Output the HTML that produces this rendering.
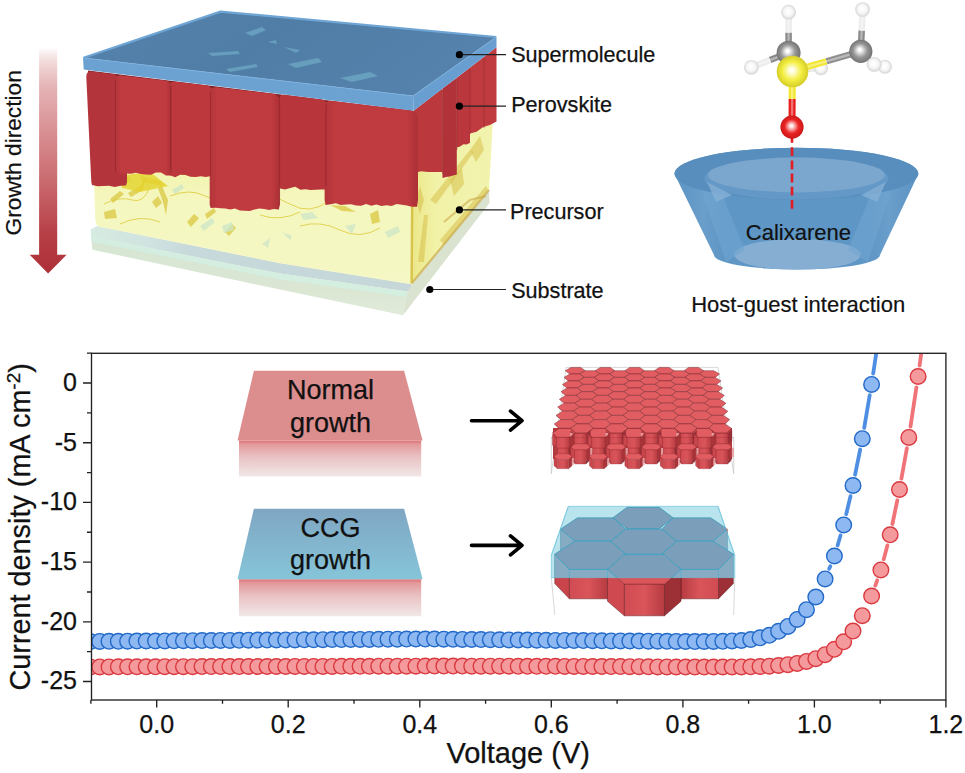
<!DOCTYPE html>
<html><head><meta charset="utf-8"><title>figure</title>
<style>
html,body{margin:0;padding:0;background:#fff;}
body{width:965px;height:773px;overflow:hidden;font-family:"Liberation Sans",sans-serif;}
svg{display:block;}
text{font-family:"Liberation Sans",sans-serif;}
</style></head><body>
<svg width="965" height="773" viewBox="0 0 965 773">
<rect width="965" height="773" fill="#fff"/>
<g id="chart">
<clipPath id="plotclip"><rect x="91.5" y="353.3" width="854.4" height="346.7"/></clipPath>
<g clip-path="url(#plotclip)">
<path d="M829.2 568.7L830.3 566.2M837.6 545.5L840.5 535.4M846.2 514.2L850.5 496.2M855.1 474.7L860.2 449.5M864.2 427.9L869.7 395.2M873.2 373.5L879.3 332.9" stroke="#4f8fe3" stroke-width="3.8" stroke-linecap="round" fill="none"/>
<g fill="#8db8f1" stroke="#2269c9" stroke-width="1.4"><circle cx="90.4" cy="641.5" r="7.8"/><circle cx="99.7" cy="641.4" r="7.8"/><circle cx="109.0" cy="641.3" r="7.8"/><circle cx="118.3" cy="641.3" r="7.8"/><circle cx="127.6" cy="641.2" r="7.8"/><circle cx="136.9" cy="641.1" r="7.8"/><circle cx="146.2" cy="641.0" r="7.8"/><circle cx="155.5" cy="641.0" r="7.8"/><circle cx="164.8" cy="640.9" r="7.8"/><circle cx="174.1" cy="640.8" r="7.8"/><circle cx="183.4" cy="640.7" r="7.8"/><circle cx="192.7" cy="640.7" r="7.8"/><circle cx="202.0" cy="640.6" r="7.8"/><circle cx="211.3" cy="640.5" r="7.8"/><circle cx="220.6" cy="640.4" r="7.8"/><circle cx="229.9" cy="640.4" r="7.8"/><circle cx="239.2" cy="640.3" r="7.8"/><circle cx="248.5" cy="640.2" r="7.8"/><circle cx="257.8" cy="640.1" r="7.8"/><circle cx="267.1" cy="640.1" r="7.8"/><circle cx="276.4" cy="640.0" r="7.8"/><circle cx="285.7" cy="639.9" r="7.8"/><circle cx="295.0" cy="639.9" r="7.8"/><circle cx="304.3" cy="639.8" r="7.8"/><circle cx="313.6" cy="639.8" r="7.8"/><circle cx="322.9" cy="639.7" r="7.8"/><circle cx="332.2" cy="639.6" r="7.8"/><circle cx="341.5" cy="639.6" r="7.8"/><circle cx="350.8" cy="639.5" r="7.8"/><circle cx="360.1" cy="639.4" r="7.8"/><circle cx="369.4" cy="639.4" r="7.8"/><circle cx="378.7" cy="639.3" r="7.8"/><circle cx="388.0" cy="639.2" r="7.8"/><circle cx="397.3" cy="639.2" r="7.8"/><circle cx="406.6" cy="639.1" r="7.8"/><circle cx="415.9" cy="639.0" r="7.8"/><circle cx="425.2" cy="639.1" r="7.8"/><circle cx="434.5" cy="639.1" r="7.8"/><circle cx="443.8" cy="639.2" r="7.8"/><circle cx="453.1" cy="639.3" r="7.8"/><circle cx="462.4" cy="639.4" r="7.8"/><circle cx="471.7" cy="639.5" r="7.8"/><circle cx="481.0" cy="639.6" r="7.8"/><circle cx="490.3" cy="639.7" r="7.8"/><circle cx="499.6" cy="639.8" r="7.8"/><circle cx="508.9" cy="639.9" r="7.8"/><circle cx="518.2" cy="640.0" r="7.8"/><circle cx="527.5" cy="640.1" r="7.8"/><circle cx="536.8" cy="640.2" r="7.8"/><circle cx="546.1" cy="640.3" r="7.8"/><circle cx="555.4" cy="640.4" r="7.8"/><circle cx="564.7" cy="640.4" r="7.8"/><circle cx="574.0" cy="640.5" r="7.8"/><circle cx="583.3" cy="640.6" r="7.8"/><circle cx="592.6" cy="640.7" r="7.8"/><circle cx="601.9" cy="640.8" r="7.8"/><circle cx="611.2" cy="640.9" r="7.8"/><circle cx="620.5" cy="640.9" r="7.8"/><circle cx="629.8" cy="641.0" r="7.8"/><circle cx="639.1" cy="641.1" r="7.8"/><circle cx="648.4" cy="641.2" r="7.8"/><circle cx="657.7" cy="641.2" r="7.8"/><circle cx="667.0" cy="641.3" r="7.8"/><circle cx="676.3" cy="641.4" r="7.8"/><circle cx="685.6" cy="641.5" r="7.8"/><circle cx="694.9" cy="641.6" r="7.8"/><circle cx="704.2" cy="641.5" r="7.8"/><circle cx="713.5" cy="641.4" r="7.8"/><circle cx="722.8" cy="641.3" r="7.8"/><circle cx="732.1" cy="640.9" r="7.8"/><circle cx="741.4" cy="640.5" r="7.8"/><circle cx="750.7" cy="639.6" r="7.8"/><circle cx="760.0" cy="637.8" r="7.8"/><circle cx="769.3" cy="635.3" r="7.8"/><circle cx="778.6" cy="631.3" r="7.8"/><circle cx="787.9" cy="626.4" r="7.8"/><circle cx="797.2" cy="619.4" r="7.8"/><circle cx="806.5" cy="609.7" r="7.8"/><circle cx="815.8" cy="597.0" r="7.8"/><circle cx="825.1" cy="578.9" r="7.8"/><circle cx="834.4" cy="556.0" r="7.8"/><circle cx="843.7" cy="524.9" r="7.8"/><circle cx="853.0" cy="485.5" r="7.8"/><circle cx="862.3" cy="438.7" r="7.8"/><circle cx="871.6" cy="384.4" r="7.8"/></g>
</g>
<g clip-path="url(#plotclip)">
<path d="M875.3 585.6L877.2 580.3M883.7 559.3L887.4 545.4M892.4 524.0L897.3 500.3M901.4 478.7L906.9 448.2M910.5 426.5L916.4 387.4M919.6 365.6L925.9 318.9" stroke="#f07378" stroke-width="3.8" stroke-linecap="round" fill="none"/>
<g fill="#f59a9c" stroke="#d9393f" stroke-width="1.4"><circle cx="90.4" cy="666.9" r="7.8"/><circle cx="99.7" cy="666.9" r="7.8"/><circle cx="109.0" cy="666.9" r="7.8"/><circle cx="118.3" cy="666.8" r="7.8"/><circle cx="127.6" cy="666.8" r="7.8"/><circle cx="136.9" cy="666.8" r="7.8"/><circle cx="146.2" cy="666.8" r="7.8"/><circle cx="155.5" cy="666.8" r="7.8"/><circle cx="164.8" cy="666.7" r="7.8"/><circle cx="174.1" cy="666.7" r="7.8"/><circle cx="183.4" cy="666.7" r="7.8"/><circle cx="192.7" cy="666.7" r="7.8"/><circle cx="202.0" cy="666.6" r="7.8"/><circle cx="211.3" cy="666.6" r="7.8"/><circle cx="220.6" cy="666.6" r="7.8"/><circle cx="229.9" cy="666.6" r="7.8"/><circle cx="239.2" cy="666.6" r="7.8"/><circle cx="248.5" cy="666.5" r="7.8"/><circle cx="257.8" cy="666.5" r="7.8"/><circle cx="267.1" cy="666.5" r="7.8"/><circle cx="276.4" cy="666.5" r="7.8"/><circle cx="285.7" cy="666.5" r="7.8"/><circle cx="295.0" cy="666.4" r="7.8"/><circle cx="304.3" cy="666.4" r="7.8"/><circle cx="313.6" cy="666.4" r="7.8"/><circle cx="322.9" cy="666.4" r="7.8"/><circle cx="332.2" cy="666.4" r="7.8"/><circle cx="341.5" cy="666.3" r="7.8"/><circle cx="350.8" cy="666.3" r="7.8"/><circle cx="360.1" cy="666.3" r="7.8"/><circle cx="369.4" cy="666.3" r="7.8"/><circle cx="378.7" cy="666.2" r="7.8"/><circle cx="388.0" cy="666.2" r="7.8"/><circle cx="397.3" cy="666.2" r="7.8"/><circle cx="406.6" cy="666.2" r="7.8"/><circle cx="415.9" cy="666.2" r="7.8"/><circle cx="425.2" cy="666.1" r="7.8"/><circle cx="434.5" cy="666.1" r="7.8"/><circle cx="443.8" cy="666.1" r="7.8"/><circle cx="453.1" cy="666.1" r="7.8"/><circle cx="462.4" cy="666.1" r="7.8"/><circle cx="471.7" cy="666.2" r="7.8"/><circle cx="481.0" cy="666.2" r="7.8"/><circle cx="490.3" cy="666.2" r="7.8"/><circle cx="499.6" cy="666.2" r="7.8"/><circle cx="508.9" cy="666.2" r="7.8"/><circle cx="518.2" cy="666.3" r="7.8"/><circle cx="527.5" cy="666.3" r="7.8"/><circle cx="536.8" cy="666.3" r="7.8"/><circle cx="546.1" cy="666.3" r="7.8"/><circle cx="555.4" cy="666.3" r="7.8"/><circle cx="564.7" cy="666.4" r="7.8"/><circle cx="574.0" cy="666.4" r="7.8"/><circle cx="583.3" cy="666.4" r="7.8"/><circle cx="592.6" cy="666.5" r="7.8"/><circle cx="601.9" cy="666.5" r="7.8"/><circle cx="611.2" cy="666.6" r="7.8"/><circle cx="620.5" cy="666.6" r="7.8"/><circle cx="629.8" cy="666.7" r="7.8"/><circle cx="639.1" cy="666.7" r="7.8"/><circle cx="648.4" cy="666.8" r="7.8"/><circle cx="657.7" cy="666.9" r="7.8"/><circle cx="667.0" cy="666.9" r="7.8"/><circle cx="676.3" cy="667.0" r="7.8"/><circle cx="685.6" cy="667.0" r="7.8"/><circle cx="694.9" cy="667.1" r="7.8"/><circle cx="704.2" cy="667.1" r="7.8"/><circle cx="713.5" cy="667.0" r="7.8"/><circle cx="722.8" cy="667.0" r="7.8"/><circle cx="732.1" cy="666.9" r="7.8"/><circle cx="741.4" cy="666.9" r="7.8"/><circle cx="750.7" cy="666.8" r="7.8"/><circle cx="760.0" cy="666.5" r="7.8"/><circle cx="769.3" cy="666.2" r="7.8"/><circle cx="778.6" cy="665.5" r="7.8"/><circle cx="787.9" cy="664.7" r="7.8"/><circle cx="797.2" cy="663.4" r="7.8"/><circle cx="806.5" cy="661.4" r="7.8"/><circle cx="815.8" cy="658.7" r="7.8"/><circle cx="825.1" cy="654.7" r="7.8"/><circle cx="834.4" cy="649.3" r="7.8"/><circle cx="843.7" cy="641.8" r="7.8"/><circle cx="853.0" cy="631.1" r="7.8"/><circle cx="862.3" cy="615.7" r="7.8"/><circle cx="871.6" cy="596.0" r="7.8"/><circle cx="880.9" cy="569.9" r="7.8"/><circle cx="890.2" cy="534.8" r="7.8"/><circle cx="899.5" cy="489.5" r="7.8"/><circle cx="908.8" cy="437.4" r="7.8"/><circle cx="918.1" cy="376.5" r="7.8"/></g>
</g>
<rect x="91.5" y="353.3" width="854.4" height="346.7" fill="none" stroke="#222" stroke-width="1.35"/>
<path d="M90.9 700.0v3.8M156.7 700.0v7.5M222.5 700.0v3.8M288.2 700.0v7.5M354.0 700.0v3.8M419.8 700.0v7.5M485.6 700.0v3.8M551.3 700.0v7.5M617.1 700.0v3.8M682.9 700.0v7.5M748.6 700.0v3.8M814.4 700.0v7.5M880.2 700.0v3.8M945.9 700.0v7.5M91.5 681.5h-8.5M91.5 651.6h-4.5M91.5 621.8h-8.5M91.5 592.0h-4.5M91.5 562.1h-8.5M91.5 532.2h-4.5M91.5 502.4h-8.5M91.5 472.6h-4.5M91.5 442.7h-8.5M91.5 412.9h-4.5M91.5 383.0h-8.5M91.5 353.1h-4.5" stroke="#222" stroke-width="1.35" fill="none"/>
<g font-size="25" fill="#111" stroke="#111" stroke-width="0.25" text-anchor="middle">
<text x="156.7" y="732.6">0.0</text>
<text x="288.2" y="732.6">0.2</text>
<text x="419.8" y="732.6">0.4</text>
<text x="551.3" y="732.6">0.6</text>
<text x="682.9" y="732.6">0.8</text>
<text x="814.4" y="732.6">1.0</text>
<text x="945.9" y="732.6">1.2</text>
</g>
<g font-size="25" fill="#111" stroke="#111" stroke-width="0.25" text-anchor="end">
<text x="77" y="390.8">0</text>
<text x="77" y="450.5">-5</text>
<text x="77" y="510.2">-10</text>
<text x="77" y="569.9">-15</text>
<text x="77" y="629.6">-20</text>
<text x="77" y="689.3">-25</text>
</g>
<text x="518.2" y="762.8" font-size="29" fill="#111" stroke="#111" stroke-width="0.25" text-anchor="middle">Voltage (V)</text>
<text transform="translate(30.2 526.8) rotate(-90)" font-size="28.8" fill="#111" stroke="#111" stroke-width="0.25" text-anchor="middle">Current density (mA cm<tspan font-size="19" dy="-10.5">-2</tspan><tspan dy="10.5">)</tspan></text>
</g>
<defs>
<linearGradient id="gFade" x1="0" y1="0" x2="0" y2="1"><stop offset="0" stop-color="#de7074"/><stop offset="0.1" stop-color="#e3999b"/><stop offset="0.45" stop-color="#e9c2c3"/><stop offset="1" stop-color="#f2e7e7"/></linearGradient>
<linearGradient id="gCCG" x1="0" y1="0" x2="0" y2="1"><stop offset="0" stop-color="#7fa6c2"/><stop offset="1" stop-color="#86c5d9"/></linearGradient>
<linearGradient id="gFront" x1="0" y1="0" x2="1" y2="0"><stop offset="0" stop-color="#d14c52"/><stop offset="0.5" stop-color="#d9555a"/><stop offset="1" stop-color="#b63b41"/></linearGradient>
<linearGradient id="gFront2" x1="0" y1="0" x2="1" y2="0"><stop offset="0" stop-color="#b63b41"/><stop offset="0.5" stop-color="#d9555a"/><stop offset="1" stop-color="#d14c52"/></linearGradient>
</defs>
<g id="insets">
<polygon points="239,440.6 421.2,440.6 421.2,476.6 239,476.6" fill="url(#gFade)"/>
<polygon points="253.9,370.7 404.1,370.7 422.6,440.6 237.5,440.6" fill="#dc8e8f"/>
<polygon points="239,579.3 421.2,579.3 421.2,616.3 239,616.3" fill="url(#gFade)"/>
<polygon points="253.9,508.7 404.1,508.7 422.6,579.3 237.5,579.3" fill="url(#gCCG)"/>
<g font-size="27" fill="#111" text-anchor="middle" stroke="#111" stroke-width="0.25">
<text x="330.5" y="399.4">Normal</text><text x="330.5" y="431.6">growth</text>
<text x="330.5" y="537.4">CCG</text><text x="330.5" y="569.2">growth</text>
</g>
<path d="M471.5 420.7H521.5M510.5 411.2L522 420.7L510.5 430.2" stroke="#000" stroke-width="3.6" fill="none" stroke-linecap="round" stroke-linejoin="round"/>
<path d="M471.5 545.4H521.5M510.5 535.9L522 545.4L510.5 554.9" stroke="#000" stroke-width="3.6" fill="none" stroke-linecap="round" stroke-linejoin="round"/>
<g id="normalhex">
<path d="M566.1 367.4H718L733.7 473.5M566.1 367.4L551.3 473.5M733.7 437V474M551.3 437V474" stroke="#bdbdbd" stroke-width="0.6" fill="none"/>
<polygon points="553.0,428.0 732.0,428.0 732.0,459.0 553.0,459.0" fill="#b8383e"/>
<g fill="#e25d62" stroke="#6e2226" stroke-width="0.45" stroke-linejoin="round"><polygon points="585.2,370.7 579.7,374.0 569.7,374.0 565.4,370.7 571.0,367.4 580.8,367.4"/><polygon points="614.9,370.7 609.6,374.0 599.7,374.0 595.1,370.7 600.4,367.4 610.2,367.4"/><polygon points="644.5,370.7 639.6,374.0 629.6,374.0 624.8,370.7 629.8,367.4 639.6,367.4"/><polygon points="674.2,370.7 669.6,374.0 659.6,374.0 654.4,370.7 659.2,367.4 669.0,367.4"/><polygon points="703.9,370.7 699.5,374.0 689.5,374.0 684.1,370.7 688.6,367.4 698.4,367.4"/><polygon points="599.7,374.0 594.2,377.4 584.1,377.4 579.7,374.0 585.2,370.7 595.1,370.7"/><polygon points="629.6,374.0 624.5,377.4 614.4,377.4 609.6,374.0 614.9,370.7 624.8,370.7"/><polygon points="659.6,374.0 654.7,377.4 644.6,377.4 639.6,374.0 644.5,370.7 654.4,370.7"/><polygon points="689.5,374.0 685.0,377.4 674.9,377.4 669.6,374.0 674.2,370.7 684.1,370.7"/><polygon points="719.5,374.0 715.2,377.4 705.1,377.4 699.5,374.0 703.9,370.7 713.8,370.7"/><polygon points="584.1,377.4 578.5,380.9 568.3,380.9 564.0,377.4 569.7,374.0 579.7,374.0"/><polygon points="614.4,377.4 609.1,380.9 598.9,380.9 594.2,377.4 599.7,374.0 609.6,374.0"/><polygon points="644.6,377.4 639.6,380.9 629.4,380.9 624.5,377.4 629.6,374.0 639.6,374.0"/><polygon points="674.9,377.4 670.1,380.9 659.9,380.9 654.7,377.4 659.6,374.0 669.6,374.0"/><polygon points="705.1,377.4 700.7,380.9 690.5,380.9 685.0,377.4 689.5,374.0 699.5,374.0"/><polygon points="598.9,380.9 593.3,384.4 583.1,384.4 578.5,380.9 584.1,377.4 594.2,377.4"/><polygon points="629.4,380.9 624.2,384.4 613.9,384.4 609.1,380.9 614.4,377.4 624.5,377.4"/><polygon points="659.9,380.9 655.0,384.4 644.7,384.4 639.6,380.9 644.6,377.4 654.7,377.4"/><polygon points="690.5,380.9 685.8,384.4 675.6,384.4 670.1,380.9 674.9,377.4 685.0,377.4"/><polygon points="721.0,380.9 716.7,384.4 706.4,384.4 700.7,380.9 705.1,377.4 715.2,377.4"/><polygon points="583.1,384.4 577.3,388.0 566.9,388.0 562.5,384.4 568.3,380.9 578.5,380.9"/><polygon points="613.9,384.4 608.5,388.0 598.1,388.0 593.3,384.4 598.9,380.9 609.1,380.9"/><polygon points="644.7,384.4 639.6,388.0 629.2,388.0 624.2,384.4 629.4,380.9 639.6,380.9"/><polygon points="675.6,384.4 670.7,388.0 660.3,388.0 655.0,384.4 659.9,380.9 670.1,380.9"/><polygon points="706.4,384.4 701.9,388.0 691.5,388.0 685.8,384.4 690.5,380.9 700.7,380.9"/><polygon points="598.1,388.0 592.4,391.7 581.9,391.7 577.3,388.0 583.1,384.4 593.3,384.4"/><polygon points="629.2,388.0 623.9,391.7 613.4,391.7 608.5,388.0 613.9,384.4 624.2,384.4"/><polygon points="660.3,388.0 655.3,391.7 644.8,391.7 639.6,388.0 644.7,384.4 655.0,384.4"/><polygon points="691.5,388.0 686.8,391.7 676.3,391.7 670.7,388.0 675.6,384.4 685.8,384.4"/><polygon points="722.6,388.0 718.2,391.7 707.7,391.7 701.9,388.0 706.4,384.4 716.7,384.4"/><polygon points="581.9,391.7 576.1,395.4 565.5,395.4 561.0,391.7 566.9,388.0 577.3,388.0"/><polygon points="613.4,391.7 607.8,395.4 597.2,395.4 592.4,391.7 598.1,388.0 608.5,388.0"/><polygon points="644.8,391.7 639.6,395.4 629.0,395.4 623.9,391.7 629.2,388.0 639.6,388.0"/><polygon points="676.3,391.7 671.3,395.4 660.8,395.4 655.3,391.7 660.3,388.0 670.7,388.0"/><polygon points="707.7,391.7 703.1,395.4 692.5,395.4 686.8,391.7 691.5,388.0 701.9,388.0"/><polygon points="597.2,395.4 591.5,399.3 580.8,399.3 576.1,395.4 581.9,391.7 592.4,391.7"/><polygon points="629.0,395.4 623.5,399.3 612.8,399.3 607.8,395.4 613.4,391.7 623.9,391.7"/><polygon points="660.8,395.4 655.6,399.3 644.9,399.3 639.6,395.4 644.8,391.7 655.3,391.7"/><polygon points="692.5,395.4 687.7,399.3 677.0,399.3 671.3,395.4 676.3,391.7 686.8,391.7"/><polygon points="724.3,395.4 719.8,399.3 709.1,399.3 703.1,395.4 707.7,391.7 718.2,391.7"/><polygon points="580.8,399.3 574.8,403.2 564.0,403.2 559.4,399.3 565.5,395.4 576.1,395.4"/><polygon points="612.8,399.3 607.2,403.2 596.4,403.2 591.5,399.3 597.2,395.4 607.8,395.4"/><polygon points="644.9,399.3 639.6,403.2 628.8,403.2 623.5,399.3 629.0,395.4 639.6,395.4"/><polygon points="677.0,399.3 672.0,403.2 661.2,403.2 655.6,399.3 660.8,395.4 671.3,395.4"/><polygon points="709.1,399.3 704.4,403.2 693.6,403.2 687.7,399.3 692.5,395.4 703.1,395.4"/><polygon points="596.4,403.2 590.5,407.1 579.5,407.1 574.8,403.2 580.8,399.3 591.5,399.3"/><polygon points="628.8,403.2 623.2,407.1 612.3,407.1 607.2,403.2 612.8,399.3 623.5,399.3"/><polygon points="661.2,403.2 655.9,407.1 645.0,407.1 639.6,403.2 644.9,399.3 655.6,399.3"/><polygon points="693.6,403.2 688.7,407.1 677.8,407.1 672.0,403.2 677.0,399.3 687.7,399.3"/><polygon points="726.0,403.2 721.4,407.1 710.5,407.1 704.4,403.2 709.1,399.3 719.8,399.3"/><polygon points="579.5,407.1 573.4,411.2 562.4,411.2 557.7,407.1 564.0,403.2 574.8,403.2"/><polygon points="612.3,407.1 606.5,411.2 595.5,411.2 590.5,407.1 596.4,403.2 607.2,403.2"/><polygon points="645.0,407.1 639.6,411.2 628.5,411.2 623.2,407.1 628.8,403.2 639.6,403.2"/><polygon points="677.8,407.1 672.7,411.2 661.6,411.2 655.9,407.1 661.2,403.2 672.0,403.2"/><polygon points="710.5,407.1 705.8,411.2 694.7,411.2 688.7,407.1 693.6,403.2 704.4,403.2"/><polygon points="595.5,411.2 589.4,415.4 578.3,415.4 573.4,411.2 579.5,407.1 590.5,407.1"/><polygon points="628.5,411.2 622.9,415.4 611.7,415.4 606.5,411.2 612.3,407.1 623.2,407.1"/><polygon points="661.6,411.2 656.3,415.4 645.1,415.4 639.6,411.2 645.0,407.1 655.9,407.1"/><polygon points="694.7,411.2 689.7,415.4 678.6,415.4 672.7,411.2 677.8,407.1 688.7,407.1"/><polygon points="727.8,411.2 723.2,415.4 712.0,415.4 705.8,411.2 710.5,407.1 721.4,407.1"/><polygon points="578.3,415.4 572.0,419.6 560.7,419.6 556.0,415.4 562.4,411.2 573.4,411.2"/><polygon points="611.7,415.4 605.8,419.6 594.5,419.6 589.4,415.4 595.5,411.2 606.5,411.2"/><polygon points="645.1,415.4 639.6,419.6 628.3,419.6 622.9,415.4 628.5,411.2 639.6,411.2"/><polygon points="678.6,415.4 673.4,419.6 662.1,419.6 656.3,415.4 661.6,411.2 672.7,411.2"/><polygon points="712.0,415.4 707.2,419.6 695.9,419.6 689.7,415.4 694.7,411.2 705.8,411.2"/><polygon points="594.5,419.6 588.3,423.9 576.9,423.9 572.0,419.6 578.3,415.4 589.4,415.4"/><polygon points="628.3,419.6 622.5,423.9 611.1,423.9 605.8,419.6 611.7,415.4 622.9,415.4"/><polygon points="662.1,419.6 656.6,423.9 645.3,423.9 639.6,419.6 645.1,415.4 656.3,415.4"/><polygon points="695.9,419.6 690.8,423.9 679.4,423.9 673.4,419.6 678.6,415.4 689.7,415.4"/><polygon points="729.7,419.6 725.0,423.9 713.6,423.9 707.2,419.6 712.0,415.4 723.2,415.4"/><polygon points="576.9,423.9 570.5,428.4 559.0,428.4 554.2,423.9 560.7,419.6 572.0,419.6"/><polygon points="611.1,423.9 605.0,428.4 593.5,428.4 588.3,423.9 594.5,419.6 605.8,419.6"/><polygon points="645.3,423.9 639.6,428.4 628.1,428.4 622.5,423.9 628.3,419.6 639.6,419.6"/><polygon points="679.4,423.9 674.1,428.4 662.6,428.4 656.6,423.9 662.1,419.6 673.4,419.6"/><polygon points="713.6,423.9 708.6,428.4 697.1,428.4 690.8,423.9 695.9,419.6 707.2,419.6"/><polygon points="593.5,428.4 587.2,432.9 575.6,432.9 570.5,428.4 576.9,423.9 588.3,423.9"/><polygon points="628.1,428.4 622.1,432.9 610.5,432.9 605.0,428.4 611.1,423.9 622.5,423.9"/><polygon points="662.6,428.4 657.0,432.9 645.4,432.9 639.6,428.4 645.3,423.9 656.6,423.9"/><polygon points="697.1,428.4 691.9,432.9 680.3,432.9 674.1,428.4 679.4,423.9 690.8,423.9"/><polygon points="731.7,428.4 726.8,432.9 715.2,432.9 708.6,428.4 713.6,423.9 725.0,423.9"/><polygon points="575.6,432.9 569.0,437.5 557.2,437.5 552.3,432.9 559.0,428.4 570.5,428.4"/><polygon points="610.5,432.9 604.3,437.5 592.5,437.5 587.2,432.9 593.5,428.4 605.0,428.4"/><polygon points="645.4,432.9 639.6,437.5 627.8,437.5 622.1,432.9 628.1,428.4 639.6,428.4"/><polygon points="680.3,432.9 674.9,437.5 663.1,437.5 657.0,432.9 662.6,428.4 674.1,428.4"/><polygon points="715.2,432.9 710.2,437.5 698.4,437.5 691.9,432.9 697.1,428.4 708.6,428.4"/></g>
<polygon points="570.8,430.5 574.5,433.5 574.5,444.0 570.8,441.0" fill="#b53d43" stroke="#8f2c31" stroke-width="0.3"/><polygon points="586.7,433.5 590.4,430.5 590.4,441.0 586.7,444.0" fill="#98303a" stroke="#8f2c31" stroke-width="0.3"/><polygon points="574.5,433.5 586.7,433.5 586.7,444.0 574.5,444.0" fill="url(#gFront)" stroke="#8f2c31" stroke-width="0.3"/>
<polygon points="606.2,430.5 609.9,433.5 609.9,444.0 606.2,441.0" fill="#b53d43" stroke="#8f2c31" stroke-width="0.3"/><polygon points="622.1,433.5 625.8,430.5 625.8,441.0 622.1,444.0" fill="#98303a" stroke="#8f2c31" stroke-width="0.3"/><polygon points="609.9,433.5 622.1,433.5 622.1,444.0 609.9,444.0" fill="url(#gFront)" stroke="#8f2c31" stroke-width="0.3"/>
<polygon points="641.6,430.5 645.3,433.5 645.3,444.0 641.6,441.0" fill="#b53d43" stroke="#8f2c31" stroke-width="0.3"/><polygon points="657.5,433.5 661.2,430.5 661.2,441.0 657.5,444.0" fill="#98303a" stroke="#8f2c31" stroke-width="0.3"/><polygon points="645.3,433.5 657.5,433.5 657.5,444.0 645.3,444.0" fill="url(#gFront)" stroke="#8f2c31" stroke-width="0.3"/>
<polygon points="677.0,430.5 680.7,433.5 680.7,444.0 677.0,441.0" fill="#b53d43" stroke="#8f2c31" stroke-width="0.3"/><polygon points="692.9,433.5 696.6,430.5 696.6,441.0 692.9,444.0" fill="#98303a" stroke="#8f2c31" stroke-width="0.3"/><polygon points="680.7,433.5 692.9,433.5 692.9,444.0 680.7,444.0" fill="url(#gFront)" stroke="#8f2c31" stroke-width="0.3"/>
<polygon points="712.4,430.5 716.1,433.5 716.1,444.0 712.4,441.0" fill="#b53d43" stroke="#8f2c31" stroke-width="0.3"/><polygon points="728.3,433.5 732.0,430.5 732.0,441.0 728.3,444.0" fill="#98303a" stroke="#8f2c31" stroke-width="0.3"/><polygon points="716.1,433.5 728.3,433.5 728.3,444.0 716.1,444.0" fill="url(#gFront)" stroke="#8f2c31" stroke-width="0.3"/>
<rect x="570.0" y="433" width="2.6" height="10" fill="#e9a3a5" opacity="0.9"/>
<rect x="605.4" y="433" width="2.6" height="10" fill="#e9a3a5" opacity="0.9"/>
<rect x="640.8" y="433" width="2.6" height="10" fill="#e9a3a5" opacity="0.9"/>
<rect x="676.2" y="433" width="2.6" height="10" fill="#e9a3a5" opacity="0.9"/>
<rect x="711.6" y="433" width="2.6" height="10" fill="#e9a3a5" opacity="0.9"/>
<polygon points="552.4,434.2 556.4,437.2 556.4,448.2 552.4,445.2" fill="#c9474d" stroke="#8f2c31" stroke-width="0.3"/><polygon points="569.6,437.2 573.6,434.2 573.6,445.2 569.6,448.2" fill="#a9353b" stroke="#8f2c31" stroke-width="0.3"/><polygon points="556.4,437.2 569.6,437.2 569.6,448.2 556.4,448.2" fill="url(#gFront)" stroke="#8f2c31" stroke-width="0.3"/>
<polygon points="587.8,434.2 591.8,437.2 591.8,448.2 587.8,445.2" fill="#c9474d" stroke="#8f2c31" stroke-width="0.3"/><polygon points="605.0,437.2 609.0,434.2 609.0,445.2 605.0,448.2" fill="#a9353b" stroke="#8f2c31" stroke-width="0.3"/><polygon points="591.8,437.2 605.0,437.2 605.0,448.2 591.8,448.2" fill="url(#gFront)" stroke="#8f2c31" stroke-width="0.3"/>
<polygon points="623.2,434.2 627.2,437.2 627.2,448.2 623.2,445.2" fill="#c9474d" stroke="#8f2c31" stroke-width="0.3"/><polygon points="640.4,437.2 644.4,434.2 644.4,445.2 640.4,448.2" fill="#a9353b" stroke="#8f2c31" stroke-width="0.3"/><polygon points="627.2,437.2 640.4,437.2 640.4,448.2 627.2,448.2" fill="url(#gFront)" stroke="#8f2c31" stroke-width="0.3"/>
<polygon points="658.6,434.2 662.6,437.2 662.6,448.2 658.6,445.2" fill="#c9474d" stroke="#8f2c31" stroke-width="0.3"/><polygon points="675.8,437.2 679.8,434.2 679.8,445.2 675.8,448.2" fill="#a9353b" stroke="#8f2c31" stroke-width="0.3"/><polygon points="662.6,437.2 675.8,437.2 675.8,448.2 662.6,448.2" fill="url(#gFront)" stroke="#8f2c31" stroke-width="0.3"/>
<polygon points="694.0,434.2 698.0,437.2 698.0,448.2 694.0,445.2" fill="#c9474d" stroke="#8f2c31" stroke-width="0.3"/><polygon points="711.2,437.2 715.2,434.2 715.2,445.2 711.2,448.2" fill="#a9353b" stroke="#8f2c31" stroke-width="0.3"/><polygon points="698.0,437.2 711.2,437.2 711.2,448.2 698.0,448.2" fill="url(#gFront)" stroke="#8f2c31" stroke-width="0.3"/>
<polygon points="554.0,445.2 557.4,448.2 557.4,455.5 554.0,452.5" fill="#b53d43" stroke="#8f2c31" stroke-width="0.3"/><polygon points="568.6,448.2 572.0,445.2 572.0,452.5 568.6,455.5" fill="#98303a" stroke="#8f2c31" stroke-width="0.3"/><polygon points="557.4,448.2 568.6,448.2 568.6,455.5 557.4,455.5" fill="url(#gFront)" stroke="#8f2c31" stroke-width="0.3"/>
<polygon points="589.4,445.2 592.8,448.2 592.8,455.5 589.4,452.5" fill="#b53d43" stroke="#8f2c31" stroke-width="0.3"/><polygon points="604.0,448.2 607.4,445.2 607.4,452.5 604.0,455.5" fill="#98303a" stroke="#8f2c31" stroke-width="0.3"/><polygon points="592.8,448.2 604.0,448.2 604.0,455.5 592.8,455.5" fill="url(#gFront)" stroke="#8f2c31" stroke-width="0.3"/>
<polygon points="624.8,445.2 628.2,448.2 628.2,455.5 624.8,452.5" fill="#b53d43" stroke="#8f2c31" stroke-width="0.3"/><polygon points="639.4,448.2 642.8,445.2 642.8,452.5 639.4,455.5" fill="#98303a" stroke="#8f2c31" stroke-width="0.3"/><polygon points="628.2,448.2 639.4,448.2 639.4,455.5 628.2,455.5" fill="url(#gFront)" stroke="#8f2c31" stroke-width="0.3"/>
<polygon points="660.2,445.2 663.6,448.2 663.6,455.5 660.2,452.5" fill="#b53d43" stroke="#8f2c31" stroke-width="0.3"/><polygon points="674.8,448.2 678.2,445.2 678.2,452.5 674.8,455.5" fill="#98303a" stroke="#8f2c31" stroke-width="0.3"/><polygon points="663.6,448.2 674.8,448.2 674.8,455.5 663.6,455.5" fill="url(#gFront)" stroke="#8f2c31" stroke-width="0.3"/>
<polygon points="695.6,445.2 699.0,448.2 699.0,455.5 695.6,452.5" fill="#b53d43" stroke="#8f2c31" stroke-width="0.3"/><polygon points="710.2,448.2 713.6,445.2 713.6,452.5 710.2,455.5" fill="#98303a" stroke="#8f2c31" stroke-width="0.3"/><polygon points="699.0,448.2 710.2,448.2 710.2,455.5 699.0,455.5" fill="url(#gFront)" stroke="#8f2c31" stroke-width="0.3"/>
<polygon points="570.8,446.9 574.5,449.7 574.5,461.5 570.8,458.7" fill="#c9474d" stroke="#8f2c31" stroke-width="0.3"/><polygon points="586.7,449.7 590.4,446.9 590.4,458.7 586.7,461.5" fill="#a9353b" stroke="#8f2c31" stroke-width="0.3"/><polygon points="574.5,449.7 586.7,449.7 586.7,461.5 574.5,461.5" fill="url(#gFront)" stroke="#8f2c31" stroke-width="0.3"/><polygon points="570.8,446.9 574.5,444.0 586.7,444.0 590.4,446.9 586.7,449.7 574.5,449.7" fill="#e25d62" stroke="#8e2b31" stroke-width="0.35"/>
<polygon points="606.2,446.9 609.9,449.7 609.9,461.5 606.2,458.7" fill="#c9474d" stroke="#8f2c31" stroke-width="0.3"/><polygon points="622.1,449.7 625.8,446.9 625.8,458.7 622.1,461.5" fill="#a9353b" stroke="#8f2c31" stroke-width="0.3"/><polygon points="609.9,449.7 622.1,449.7 622.1,461.5 609.9,461.5" fill="url(#gFront)" stroke="#8f2c31" stroke-width="0.3"/><polygon points="606.2,446.9 609.9,444.0 622.1,444.0 625.8,446.9 622.1,449.7 609.9,449.7" fill="#e25d62" stroke="#8e2b31" stroke-width="0.35"/>
<polygon points="641.6,446.9 645.3,449.7 645.3,461.5 641.6,458.7" fill="#c9474d" stroke="#8f2c31" stroke-width="0.3"/><polygon points="657.5,449.7 661.2,446.9 661.2,458.7 657.5,461.5" fill="#a9353b" stroke="#8f2c31" stroke-width="0.3"/><polygon points="645.3,449.7 657.5,449.7 657.5,461.5 645.3,461.5" fill="url(#gFront)" stroke="#8f2c31" stroke-width="0.3"/><polygon points="641.6,446.9 645.3,444.0 657.5,444.0 661.2,446.9 657.5,449.7 645.3,449.7" fill="#e25d62" stroke="#8e2b31" stroke-width="0.35"/>
<polygon points="677.0,446.9 680.7,449.7 680.7,461.5 677.0,458.7" fill="#c9474d" stroke="#8f2c31" stroke-width="0.3"/><polygon points="692.9,449.7 696.6,446.9 696.6,458.7 692.9,461.5" fill="#a9353b" stroke="#8f2c31" stroke-width="0.3"/><polygon points="680.7,449.7 692.9,449.7 692.9,461.5 680.7,461.5" fill="url(#gFront)" stroke="#8f2c31" stroke-width="0.3"/><polygon points="677.0,446.9 680.7,444.0 692.9,444.0 696.6,446.9 692.9,449.7 680.7,449.7" fill="#e25d62" stroke="#8e2b31" stroke-width="0.35"/>
<polygon points="712.4,446.9 716.1,449.7 716.1,461.5 712.4,458.7" fill="#c9474d" stroke="#8f2c31" stroke-width="0.3"/><polygon points="728.3,449.7 732.0,446.9 732.0,458.7 728.3,461.5" fill="#a9353b" stroke="#8f2c31" stroke-width="0.3"/><polygon points="716.1,449.7 728.3,449.7 728.3,461.5 716.1,461.5" fill="url(#gFront)" stroke="#8f2c31" stroke-width="0.3"/><polygon points="712.4,446.9 716.1,444.0 728.3,444.0 732.0,446.9 728.3,449.7 716.1,449.7" fill="#e25d62" stroke="#8e2b31" stroke-width="0.35"/>
<rect x="590.2" y="448" width="2.2" height="9" fill="#e9a3a5" opacity="0.9"/>
<rect x="625.6" y="448" width="2.2" height="9" fill="#e9a3a5" opacity="0.9"/>
<rect x="661.0" y="448" width="2.2" height="9" fill="#e9a3a5" opacity="0.9"/>
<rect x="696.4" y="448" width="2.2" height="9" fill="#e9a3a5" opacity="0.9"/>
<rect x="731.8" y="448" width="2.2" height="9" fill="#e9a3a5" opacity="0.9"/>
<polygon points="572.0,458.5 575.3,461.5 575.3,464.0 572.0,461.0" fill="#b53d43" stroke="#8f2c31" stroke-width="0.3"/><polygon points="585.9,461.5 589.2,458.5 589.2,461.0 585.9,464.0" fill="#98303a" stroke="#8f2c31" stroke-width="0.3"/><polygon points="575.3,461.5 585.9,461.5 585.9,464.0 575.3,464.0" fill="url(#gFront)" stroke="#8f2c31" stroke-width="0.3"/>
<polygon points="607.4,458.5 610.7,461.5 610.7,464.0 607.4,461.0" fill="#b53d43" stroke="#8f2c31" stroke-width="0.3"/><polygon points="621.3,461.5 624.6,458.5 624.6,461.0 621.3,464.0" fill="#98303a" stroke="#8f2c31" stroke-width="0.3"/><polygon points="610.7,461.5 621.3,461.5 621.3,464.0 610.7,464.0" fill="url(#gFront)" stroke="#8f2c31" stroke-width="0.3"/>
<polygon points="642.8,458.5 646.1,461.5 646.1,464.0 642.8,461.0" fill="#b53d43" stroke="#8f2c31" stroke-width="0.3"/><polygon points="656.7,461.5 660.0,458.5 660.0,461.0 656.7,464.0" fill="#98303a" stroke="#8f2c31" stroke-width="0.3"/><polygon points="646.1,461.5 656.7,461.5 656.7,464.0 646.1,464.0" fill="url(#gFront)" stroke="#8f2c31" stroke-width="0.3"/>
<polygon points="678.2,458.5 681.5,461.5 681.5,464.0 678.2,461.0" fill="#b53d43" stroke="#8f2c31" stroke-width="0.3"/><polygon points="692.1,461.5 695.4,458.5 695.4,461.0 692.1,464.0" fill="#98303a" stroke="#8f2c31" stroke-width="0.3"/><polygon points="681.5,461.5 692.1,461.5 692.1,464.0 681.5,464.0" fill="url(#gFront)" stroke="#8f2c31" stroke-width="0.3"/>
<polygon points="713.6,458.5 716.9,461.5 716.9,464.0 713.6,461.0" fill="#b53d43" stroke="#8f2c31" stroke-width="0.3"/><polygon points="727.5,461.5 730.8,458.5 730.8,461.0 727.5,464.0" fill="#98303a" stroke="#8f2c31" stroke-width="0.3"/><polygon points="716.9,461.5 727.5,461.5 727.5,464.0 716.9,464.0" fill="url(#gFront)" stroke="#8f2c31" stroke-width="0.3"/>
<polygon points="554.0,456.5 557.4,459.4 557.4,468.7 554.0,465.8" fill="#c9474d" stroke="#8f2c31" stroke-width="0.3"/><polygon points="568.6,459.4 572.0,456.5 572.0,465.8 568.6,468.7" fill="#a9353b" stroke="#8f2c31" stroke-width="0.3"/><polygon points="557.4,459.4 568.6,459.4 568.6,468.7 557.4,468.7" fill="url(#gFront)" stroke="#8f2c31" stroke-width="0.3"/><polygon points="554.0,456.5 557.4,453.7 568.6,453.7 572.0,456.5 568.6,459.4 557.4,459.4" fill="#e25d62" stroke="#8e2b31" stroke-width="0.35"/>
<polygon points="589.4,456.5 592.8,459.4 592.8,468.7 589.4,465.8" fill="#c9474d" stroke="#8f2c31" stroke-width="0.3"/><polygon points="604.0,459.4 607.4,456.5 607.4,465.8 604.0,468.7" fill="#a9353b" stroke="#8f2c31" stroke-width="0.3"/><polygon points="592.8,459.4 604.0,459.4 604.0,468.7 592.8,468.7" fill="url(#gFront)" stroke="#8f2c31" stroke-width="0.3"/><polygon points="589.4,456.5 592.8,453.7 604.0,453.7 607.4,456.5 604.0,459.4 592.8,459.4" fill="#e25d62" stroke="#8e2b31" stroke-width="0.35"/>
<polygon points="624.8,456.5 628.2,459.4 628.2,468.7 624.8,465.8" fill="#c9474d" stroke="#8f2c31" stroke-width="0.3"/><polygon points="639.4,459.4 642.8,456.5 642.8,465.8 639.4,468.7" fill="#a9353b" stroke="#8f2c31" stroke-width="0.3"/><polygon points="628.2,459.4 639.4,459.4 639.4,468.7 628.2,468.7" fill="url(#gFront)" stroke="#8f2c31" stroke-width="0.3"/><polygon points="624.8,456.5 628.2,453.7 639.4,453.7 642.8,456.5 639.4,459.4 628.2,459.4" fill="#e25d62" stroke="#8e2b31" stroke-width="0.35"/>
<polygon points="660.2,456.5 663.6,459.4 663.6,468.7 660.2,465.8" fill="#c9474d" stroke="#8f2c31" stroke-width="0.3"/><polygon points="674.8,459.4 678.2,456.5 678.2,465.8 674.8,468.7" fill="#a9353b" stroke="#8f2c31" stroke-width="0.3"/><polygon points="663.6,459.4 674.8,459.4 674.8,468.7 663.6,468.7" fill="url(#gFront)" stroke="#8f2c31" stroke-width="0.3"/><polygon points="660.2,456.5 663.6,453.7 674.8,453.7 678.2,456.5 674.8,459.4 663.6,459.4" fill="#e25d62" stroke="#8e2b31" stroke-width="0.35"/>
<polygon points="695.6,456.5 699.0,459.4 699.0,468.7 695.6,465.8" fill="#c9474d" stroke="#8f2c31" stroke-width="0.3"/><polygon points="710.2,459.4 713.6,456.5 713.6,465.8 710.2,468.7" fill="#a9353b" stroke="#8f2c31" stroke-width="0.3"/><polygon points="699.0,459.4 710.2,459.4 710.2,468.7 699.0,468.7" fill="url(#gFront)" stroke="#8f2c31" stroke-width="0.3"/><polygon points="695.6,456.5 699.0,453.7 710.2,453.7 713.6,456.5 710.2,459.4 699.0,459.4" fill="#e25d62" stroke="#8e2b31" stroke-width="0.35"/>
<rect x="571.8" y="458" width="2.0" height="7" fill="#e9a3a5" opacity="0.9"/>
<rect x="607.2" y="458" width="2.0" height="7" fill="#e9a3a5" opacity="0.9"/>
<rect x="642.6" y="458" width="2.0" height="7" fill="#e9a3a5" opacity="0.9"/>
<rect x="678.0" y="458" width="2.0" height="7" fill="#e9a3a5" opacity="0.9"/>
<rect x="713.4" y="458" width="2.0" height="7" fill="#e9a3a5" opacity="0.9"/>
<path d="M551.3 437.3H733.7" stroke="#7a2328" stroke-width="0.35" opacity="0.7"/>
</g>
<g id="ccghex">
<path d="M551.3 577.7L554.8 615.1M734.8 577.7L733.7 615.1" stroke="#bdbdbd" stroke-width="0.6" fill="none"/>
<polygon points="560.7,529.2 574.8,541.1 574.8,567.3 560.7,555.3" fill="#c23e44" stroke="#5e1a1e" stroke-width="0.5" stroke-linejoin="round"/>
<polygon points="727.2,529.2 713.0,541.1 713.0,567.3 727.2,555.3" fill="#a8343a" stroke="#5e1a1e" stroke-width="0.5" stroke-linejoin="round"/>
<polygon points="554.8,554.2 569.4,569.4 569.4,598.8 554.8,583.6" fill="#c9454b" stroke="#5e1a1e" stroke-width="0.5" stroke-linejoin="round"/>
<polygon points="569.4,569.4 607.5,569.4 607.5,598.8 569.4,598.8" fill="url(#gFront)" stroke="#5e1a1e" stroke-width="0.5" stroke-linejoin="round"/>
<polygon points="733.3,554.2 718.5,569.4 718.5,598.8 733.3,583.6" fill="#9c3036" stroke="#5e1a1e" stroke-width="0.5" stroke-linejoin="round"/>
<polygon points="718.5,569.4 681.0,569.4 681.0,598.8 718.5,598.8" fill="url(#gFront2)" stroke="#5e1a1e" stroke-width="0.5" stroke-linejoin="round"/>
<polygon points="607.5,569.4 624.4,584.0 624.4,615.8 607.5,601.2" fill="#cf4a50" stroke="#5e1a1e" stroke-width="0.5" stroke-linejoin="round"/>
<polygon points="681.0,569.4 664.5,584.0 664.5,615.8 681.0,601.2" fill="#9c3036" stroke="#5e1a1e" stroke-width="0.5" stroke-linejoin="round"/>
<polygon points="624.4,584.0 664.5,584.0 664.5,615.8 624.4,615.8" fill="url(#gFront)" stroke="#5e1a1e" stroke-width="0.5" stroke-linejoin="round"/>
<polygon points="612.9,517.9 627.1,507.4 659.3,507.4 673.2,517.9 659.3,528.7 627.1,528.7" fill="#d9555a" stroke="#7a2328" stroke-width="0.4"/>
<polygon points="560.7,529.2 577.4,517.9 612.9,517.9 625.5,529.2 610.7,541.1 574.8,541.1" fill="#d9555a" stroke="#7a2328" stroke-width="0.4"/>
<polygon points="727.2,529.2 710.8,517.9 673.2,517.9 661.9,529.2 676.7,541.1 713.0,541.1" fill="#d9555a" stroke="#7a2328" stroke-width="0.4"/>
<polygon points="610.7,541.1 625.5,529.2 661.9,529.2 676.7,541.1 661.9,554.2 625.5,554.2" fill="#d9555a" stroke="#7a2328" stroke-width="0.4"/>
<polygon points="554.8,554.2 574.8,541.1 610.7,541.1 625.5,554.2 607.5,569.4 569.4,569.4" fill="#d9555a" stroke="#7a2328" stroke-width="0.4"/>
<polygon points="733.3,554.2 713.0,541.1 676.7,541.1 661.9,554.2 681.0,569.4 718.5,569.4" fill="#d9555a" stroke="#7a2328" stroke-width="0.4"/>
<polygon points="607.5,569.4 623.8,554.6 664.0,554.6 681.0,569.4 664.5,584.0 624.4,584.0" fill="#d9555a" stroke="#7a2328" stroke-width="0.4"/>
<polygon points="568.3,506.3 718.0,506.3 734.8,555.3 734.8,577.7 551.3,577.7 551.3,555.3" fill="#7fcde0" fill-opacity="0.55" stroke="#5fbfd8" stroke-width="0.6"/>
<clipPath id="slabclip"><polygon points="568.3,506.3 718.0,506.3 734.8,555.3 734.8,577.7 551.3,577.7 551.3,555.3"/></clipPath>
<g clip-path="url(#slabclip)">
<polygon points="560.7,529.2 574.8,541.1 574.8,567.3 560.7,555.3" fill="#86abc3" stroke="#4fb3d0" stroke-width="0.5" stroke-linejoin="round"/>
<polygon points="727.2,529.2 713.0,541.1 713.0,567.3 727.2,555.3" fill="#86abc3" stroke="#4fb3d0" stroke-width="0.5" stroke-linejoin="round"/>
<polygon points="554.8,554.2 569.4,569.4 569.4,598.8 554.8,583.6" fill="#86abc3" stroke="#4fb3d0" stroke-width="0.5" stroke-linejoin="round"/>
<polygon points="569.4,569.4 607.5,569.4 607.5,598.8 569.4,598.8" fill="#86abc3" stroke="#4fb3d0" stroke-width="0.5" stroke-linejoin="round"/>
<polygon points="733.3,554.2 718.5,569.4 718.5,598.8 733.3,583.6" fill="#86abc3" stroke="#4fb3d0" stroke-width="0.5" stroke-linejoin="round"/>
<polygon points="718.5,569.4 681.0,569.4 681.0,598.8 718.5,598.8" fill="#86abc3" stroke="#4fb3d0" stroke-width="0.5" stroke-linejoin="round"/>
<polygon points="607.5,569.4 624.4,584.0 624.4,615.8 607.5,601.2" fill="#86abc3" stroke="#4fb3d0" stroke-width="0.5" stroke-linejoin="round"/>
<polygon points="681.0,569.4 664.5,584.0 664.5,615.8 681.0,601.2" fill="#86abc3" stroke="#4fb3d0" stroke-width="0.5" stroke-linejoin="round"/>
<polygon points="624.4,584.0 664.5,584.0 664.5,615.8 624.4,615.8" fill="#86abc3" stroke="#4fb3d0" stroke-width="0.5" stroke-linejoin="round"/>
<polygon points="612.9,517.9 627.1,507.4 659.3,507.4 673.2,517.9 659.3,528.7 627.1,528.7" fill="#7b9fba" stroke="#2fa3c4" stroke-width="0.7" stroke-linejoin="round"/>
<polygon points="560.7,529.2 577.4,517.9 612.9,517.9 625.5,529.2 610.7,541.1 574.8,541.1" fill="#7b9fba" stroke="#2fa3c4" stroke-width="0.7" stroke-linejoin="round"/>
<polygon points="727.2,529.2 710.8,517.9 673.2,517.9 661.9,529.2 676.7,541.1 713.0,541.1" fill="#7b9fba" stroke="#2fa3c4" stroke-width="0.7" stroke-linejoin="round"/>
<polygon points="610.7,541.1 625.5,529.2 661.9,529.2 676.7,541.1 661.9,554.2 625.5,554.2" fill="#7b9fba" stroke="#2fa3c4" stroke-width="0.7" stroke-linejoin="round"/>
<polygon points="554.8,554.2 574.8,541.1 610.7,541.1 625.5,554.2 607.5,569.4 569.4,569.4" fill="#7b9fba" stroke="#2fa3c4" stroke-width="0.7" stroke-linejoin="round"/>
<polygon points="733.3,554.2 713.0,541.1 676.7,541.1 661.9,554.2 681.0,569.4 718.5,569.4" fill="#7b9fba" stroke="#2fa3c4" stroke-width="0.7" stroke-linejoin="round"/>
<polygon points="607.5,569.4 623.8,554.6 664.0,554.6 681.0,569.4 664.5,584.0 624.4,584.0" fill="#7b9fba" stroke="#2fa3c4" stroke-width="0.7" stroke-linejoin="round"/>
</g>
<path d="M551.3 555.3L568.3 506.3M734.8 555.3L718.0 506.3" stroke="#5fbfd8" stroke-width="0.5" fill="none"/>
</g>
</g>
<defs>
<linearGradient id="gArrow" x1="0" y1="0" x2="0" y2="1"><stop offset="0" stop-color="#fff"/><stop offset="0.06" stop-color="#f3dcdc"/><stop offset="0.17" stop-color="#e6b5b7"/><stop offset="0.32" stop-color="#dc999c"/><stop offset="0.5" stop-color="#d07a7e"/><stop offset="0.675" stop-color="#c35c62"/><stop offset="0.83" stop-color="#b63e45"/><stop offset="1" stop-color="#ae3038"/></linearGradient>
<linearGradient id="gRed" x1="0" y1="0" x2="1" y2="0"><stop offset="0" stop-color="#b3353a"/><stop offset="0.12" stop-color="#c03b3f"/><stop offset="0.88" stop-color="#c03b3f"/><stop offset="1" stop-color="#ab3036"/></linearGradient>
<linearGradient id="gRedSide" x1="0" y1="0" x2="1" y2="0"><stop offset="0" stop-color="#b4313a"/><stop offset="1" stop-color="#c03640"/></linearGradient>
<linearGradient id="gYel" x1="0" y1="0" x2="0" y2="1"><stop offset="0" stop-color="#f0f2a6"/><stop offset="0.4" stop-color="#f5f7c0"/><stop offset="1" stop-color="#f5f7c4"/></linearGradient>
<linearGradient id="gYelSide" x1="0" y1="0" x2="1" y2="0"><stop offset="0" stop-color="#ebe788"/><stop offset="0.3" stop-color="#f2f2a8"/><stop offset="1" stop-color="#f1f3ae"/></linearGradient>
<linearGradient id="gSubF" x1="0" y1="0" x2="0" y2="1"><stop offset="0" stop-color="#d6e6d4"/><stop offset="0.7" stop-color="#dbe6d3"/><stop offset="1" stop-color="#e2ebdb"/></linearGradient>
<linearGradient id="gPlateTop" x1="0" y1="0" x2="1" y2="0.3"><stop offset="0" stop-color="#5583ad"/><stop offset="0.5" stop-color="#4f7da6"/><stop offset="1" stop-color="#5482ac"/></linearGradient>
<linearGradient id="gBand" x1="0" y1="0" x2="1" y2="0"><stop offset="0" stop-color="#d6ebe1"/><stop offset="0.18" stop-color="#d0e3e0"/><stop offset="0.3" stop-color="#c8d9db"/><stop offset="1" stop-color="#c6d7da"/></linearGradient><filter id="soft" x="-5%" y="-5%" width="110%" height="110%"><feGaussianBlur stdDeviation="0.7"/></filter>
</defs>
<g id="garrow">
<path d="M39.1 47H57.2V254.7H66.6L48.1 273.5L29.7 254.7H39.1Z" fill="url(#gArrow)"/>
<text transform="translate(20.6 152.8) rotate(-90)" font-size="22.7" fill="#111" stroke="#111" stroke-width="0.2" text-anchor="middle">Growth direction</text>
</g>
<g id="block">
<polygon points="411.5,285.0 489.0,190.0 489.5,203.0 403.0,315.3 407.5,290.5" fill="#d9e3cf"/>
<polygon points="90.6,229.5 97.0,226.0 280.0,263.0 411.5,284.0 411.5,286.0 407.5,291.5 280.0,273.6 91.2,236.5" fill="url(#gBand)"/>
<polygon points="91.2,236.5 280.0,273.6 407.5,291.5 403.0,315.3 280.0,289.5 92.4,249.7" fill="url(#gSubF)"/>
<polygon points="91.2,236.5 280.0,273.6 407.5,291.5 406.5,297.0 280.0,279.6 91.4,241.5" fill="#d2eee2" opacity="0.85"/>
<polygon points="411.5,284.2 489.0,190.0 493.5,110.0 412.5,150.0" fill="url(#gYelSide)"/>
<path d="M93 150 L412.5 160 L411.5 284.2 L280 263.2 L101 227 Q95.5 226 95.3 219 Z" fill="url(#gYel)"/>
<polygon points="110.0,199.0 120.0,191.0 124.0,194.0 113.0,203.0" fill="#d3bd25" opacity="0.62"/><polygon points="104.0,212.0 115.0,209.0 117.0,218.0 105.0,219.0" fill="#d3bd25" opacity="0.62"/><polygon points="128.0,193.0 140.0,186.0 146.0,178.0 143.0,190.0 131.0,197.0" fill="#d3bd25" opacity="0.62"/><polygon points="152.0,202.0 158.0,196.0 162.0,203.0 156.0,208.0" fill="#d3bd25" opacity="0.62"/><polygon points="162.0,186.0 168.0,200.0 166.0,215.0 163.0,202.0 158.0,188.0" fill="#d3bd25" opacity="0.62"/><polygon points="140.0,176.0 160.0,181.0 164.0,186.0 142.0,182.0" fill="#d3bd25" opacity="0.62"/><polygon points="187.0,222.0 194.0,214.0 199.0,218.0 191.0,227.0" fill="#d3bd25" opacity="0.62"/><polygon points="205.0,214.0 214.0,208.0 216.0,212.0 207.0,219.0" fill="#d3bd25" opacity="0.62"/><polygon points="225.0,232.0 232.0,224.0 236.0,228.0 229.0,236.0" fill="#d3bd25" opacity="0.62"/><polygon points="330.0,205.0 345.0,206.0 356.0,212.0 342.0,211.0" fill="#d3bd25" opacity="0.62"/><polygon points="370.0,214.0 378.0,210.0 380.0,222.0 372.0,224.0" fill="#d3bd25" opacity="0.62"/><polygon points="118.0,182.0 128.0,176.0 131.0,180.0 121.0,186.0" fill="#d3bd25" opacity="0.62"/><polygon points="200.0,226.0 212.0,218.0 215.0,222.0 204.0,231.0" fill="#cde6c6" opacity="0.8"/><polygon points="222.0,226.0 232.0,222.0 234.0,230.0 224.0,233.0" fill="#cde6c6" opacity="0.8"/><polygon points="262.0,244.0 270.0,238.0 268.0,248.0" fill="#cde6c6" opacity="0.8"/><polygon points="172.0,190.0 182.0,184.0 184.0,188.0 175.0,194.0" fill="#cde6c6" opacity="0.8"/><polygon points="300.0,214.0 312.0,212.0 318.0,218.0 304.0,220.0" fill="#cde6c6" opacity="0.8"/><polygon points="345.0,226.0 356.0,224.0 352.0,234.0" fill="#cde6c6" opacity="0.8"/><polygon points="236.0,206.0 252.0,200.0 254.0,204.0 240.0,210.0" fill="#cde6c6" opacity="0.8"/><polygon points="282.0,232.0 292.0,236.0 290.0,240.0" fill="#cde6c6" opacity="0.8"/><polygon points="385.0,232.0 398.0,226.0 400.0,232.0 388.0,238.0" fill="#cde6c6" opacity="0.8"/><path d="M104 204Q120 196 132 200T150 186" stroke="#dccb3a" stroke-width="1" fill="none" opacity="0.8"/><path d="M170 196Q190 188 205 196T240 192" stroke="#dccb3a" stroke-width="1" fill="none" opacity="0.8"/><path d="M250 200Q270 192 290 204T330 200" stroke="#dccb3a" stroke-width="1" fill="none" opacity="0.8"/><path d="M300 226Q320 220 340 230T380 228" stroke="#dccb3a" stroke-width="1" fill="none" opacity="0.8"/><path d="M120 224Q140 214 160 222" stroke="#dccb3a" stroke-width="1" fill="none" opacity="0.8"/><path d="M260 215Q280 222 300 212" stroke="#dccb3a" stroke-width="1" fill="none" opacity="0.8"/>
<polygon points="418.0,262.0 424.0,215.0 428.0,215.0 424.0,262.0" fill="#d7bf4a" opacity="0.55"/>
<polygon points="430.0,200.0 470.0,150.0 474.0,152.0 436.0,204.0" fill="#d7bf4a" opacity="0.55"/>
<polygon points="440.0,240.0 486.0,186.0 488.0,190.0 444.0,245.0" fill="#d7bf4a" opacity="0.55"/>
<polygon points="450.0,180.0 462.0,168.0 464.0,184.0 454.0,196.0" fill="#d7bf4a" opacity="0.55"/>
<polygon points="470.0,150.0 480.0,136.0 484.0,150.0 476.0,162.0" fill="#d7bf4a" opacity="0.55"/>
<polygon points="416.0,200.0 420.0,186.0 424.0,200.0 420.0,214.0" fill="#d7bf4a" opacity="0.55"/>
<path d="M412 283L489 190" stroke="#c9a94a" stroke-width="2.2" opacity="0.7"/>
<path d="M444 222L470 200L486 196" stroke="#c9a94a" stroke-width="2" opacity="0.6" fill="none"/>
<path d="M412.3 190L411.6 283.5" stroke="#d3bc3a" stroke-width="2.4" opacity="0.85"/>
<polygon points="118.0,176.0 150.0,172.0 168.0,186.0 140.0,192.0 122.0,188.0" fill="#e3d32c" opacity="0.8"/>
<g filter="url(#soft)">
<polygon points="413.6,110.7 442.5,88.6 442.5,172.0 435.3,171.9 428.1,171.9 420.8,171.2 413.6,173.6" fill="#bb383d"/>
<polygon points="442.5,88.6 456.8,77.7 456.8,174.6 453.2,175.6 449.6,176.4 446.1,177.0 442.5,177.9" fill="#b13339"/>
<polygon points="456.8,77.7 470.0,67.6 470.0,142.7 466.7,144.6 463.4,144.3 460.1,146.6 456.8,147.4" fill="#ba373c"/>
<polygon points="470.0,67.6 496.5,47.3 496.5,121.6 489.9,125.0 483.2,126.9 476.6,131.7 470.0,133.5" fill="#c03b3f"/>
<path d="M442.5 90V174M456.8 79V150M470 69V134M484 58V128" stroke="#8f2128" stroke-width="1" opacity="0.5" fill="none"/>
<polygon points="88.0,70.5 413.0,111.0 413.0,168.0 92.0,168.0" fill="#7d2227"/>
<path d="M86.3 77Q86.2 70.6 92 71.4L116 74.5L127 120L127 182L126.0 185.4L120.3 185.8L114.7 186.9L109.0 185.7L103.3 185.9L97.7 186.2L92.0 185.1L91.3 182Z" fill="#b3353a"/>
<path d="M169.0 87.0Q169.0 81.0 175.0 81.7L206.0 85.3Q212.0 86.0 212.0 92.0L212.0 172.0L211.0 176.0L205.9 176.9L200.8 176.2L195.6 176.9L190.5 176.8L185.4 174.9L180.2 174.7L175.1 177.2L170.0 175.2L169.0 172.0Z" fill="#bd393e"/>
<path d="M114.8 81.5Q114.8 74.5 121.8 75.4L165.0 80.6Q172.0 81.5 172.0 88.5L172.0 169.0L171.0 175.6L166.0 175.5L161.0 172.5L155.9 172.5L150.9 174.8L145.9 174.4L140.9 174.1L135.9 172.8L130.9 173.7L125.8 173.5L120.8 173.4L115.8 171.9L114.8 169.0Z" fill="url(#gRed)"/>
<path d="M279.0 100.0Q279.0 94.0 285.0 94.8L321.0 99.2Q327.0 100.0 327.0 106.0L327.0 184.0L326.0 189.4L320.9 189.6L315.8 189.7L310.7 190.1L305.6 189.3L300.4 189.8L295.3 186.8L290.2 188.1L285.1 189.5L280.0 188.5L279.0 184.0Z" fill="#b8363b"/>
<path d="M209.7 93.5Q209.7 86.5 216.7 87.3L272.8 93.7Q279.8 94.5 279.8 101.5L279.8 205.0L278.8 209.6L273.9 209.0L269.1 209.9L264.2 209.0L259.3 208.6L254.5 209.6L249.6 211.1L244.8 210.7L239.9 210.4L235.0 208.6L230.2 209.5L225.3 208.6L220.4 208.2L215.6 207.8L210.7 208.1L209.7 205.0Z" fill="url(#gRed)"/>
<path d="M324.6 108.0Q324.6 100.0 332.6 100.9L410.0 110.1Q418.0 111.0 418.0 119.0L418.0 200.0L417.0 206.8L411.9 206.8L406.8 205.6L401.8 204.8L396.7 203.9L391.6 205.9L386.5 205.2L381.5 206.0L376.4 204.6L371.3 205.8L366.2 204.1L361.1 205.7L356.1 205.4L351.0 204.2L345.9 204.5L340.8 204.9L335.8 203.2L330.7 204.3L325.6 205.0L324.6 200.0Z" fill="url(#gRed)"/>
</g>
<path d="M115.5 80V172M170.5 86V170M210.5 92V176M279.5 98V205M326 104V186" stroke="#8f2128" stroke-width="1.1" opacity="0.55" fill="none"/>
<polygon points="413.1,95.8 496.5,36.8 496.5,47.3 413.6,110.7" fill="#689fd0"/>
<polygon points="83.0,57.7 413.1,95.8 413.6,110.7 83.7,69.6" fill="#6ba2d2"/>
<polygon points="83.0,57.7 220.5,11.2 496.5,36.8 413.1,95.8" fill="url(#gPlateTop)"/>
<path d="M83.5 57.7L220.5 11.6L496 37" stroke="#6fa5d4" stroke-width="2.2" fill="none" stroke-linejoin="round"/>
<path d="M83 57.9L413.1 96L496.3 37" stroke="#7fb4e2" stroke-width="1" fill="none" stroke-linejoin="round" opacity="0.8"/>
<polygon points="245.0,33.0 262.0,27.0 266.0,30.0 252.0,36.0" fill="#6fa9c4" opacity="0.75"/>
<polygon points="208.0,53.0 238.0,51.0 240.0,54.0 212.0,56.0" fill="#6fa9c4" opacity="0.75"/>
<polygon points="226.0,69.0 256.0,64.0 258.0,67.0 230.0,72.0" fill="#6fa9c4" opacity="0.75"/>
<polygon points="284.0,47.0 300.0,50.0 296.0,53.0" fill="#6fa9c4" opacity="0.75"/>
<polygon points="288.0,64.0 318.0,58.0 322.0,62.0 296.0,68.0" fill="#6fa9c4" opacity="0.75"/>
<polygon points="340.0,78.0 370.0,72.0 378.0,76.0 352.0,82.0" fill="#6fa9c4" opacity="0.75"/>
<polygon points="268.0,42.0 276.0,40.0 277.0,44.0" fill="#6fa9c4" opacity="0.75"/>
</g>
<g id="labels">
<path d="M459.4 54.7H506" stroke="#222" stroke-width="1.2"/>
<circle cx="459.4" cy="54.7" r="3.6" fill="#000"/>
<text x="511.2" y="61.5" font-size="21.6" fill="#111" stroke="#111" stroke-width="0.25">Supermolecule</text>
<path d="M459.4 106.2H506" stroke="#222" stroke-width="1.2"/>
<circle cx="459.4" cy="106.2" r="3.6" fill="#000"/>
<text x="511.2" y="111.6" font-size="21.6" fill="#111" stroke="#111" stroke-width="0.25">Perovskite</text>
<path d="M459.4 209.9H506" stroke="#222" stroke-width="1.2"/>
<circle cx="459.4" cy="209.9" r="3.6" fill="#000"/>
<text x="510" y="219.0" font-size="21.6" fill="#111" stroke="#111" stroke-width="0.25">Precursor</text>
<path d="M429.8 289.5H506" stroke="#222" stroke-width="1.2"/>
<circle cx="429.8" cy="289.5" r="3.6" fill="#000"/>
<text x="511.2" y="298.1" font-size="21.6" fill="#111" stroke="#111" stroke-width="0.25">Substrate</text>
</g>
<defs>
<radialGradient id="sS" cx="0.5" cy="0.5" r="0.55" fx="0.47" fy="0.46"><stop offset="0" stop-color="#fffff0"/><stop offset="0.1" stop-color="#fffff0"/><stop offset="0.55" stop-color="#f3ee40"/><stop offset="1" stop-color="#cdc526"/></radialGradient>
<radialGradient id="sO" cx="0.5" cy="0.5" r="0.55" fx="0.47" fy="0.44"><stop offset="0" stop-color="#fff0f0"/><stop offset="0.1" stop-color="#fff0f0"/><stop offset="0.55" stop-color="#ec2424"/><stop offset="1" stop-color="#c01515"/></radialGradient>
<radialGradient id="sC" cx="0.5" cy="0.5" r="0.55" fx="0.45" fy="0.42"><stop offset="0" stop-color="#ffffff"/><stop offset="0.1" stop-color="#ffffff"/><stop offset="0.55" stop-color="#969696"/><stop offset="1" stop-color="#6a6a6a"/></radialGradient>
<radialGradient id="sH" cx="0.5" cy="0.5" r="0.55" fx="0.45" fy="0.42"><stop offset="0" stop-color="#ffffff"/><stop offset="0.1" stop-color="#ffffff"/><stop offset="0.55" stop-color="#f6f6f6"/><stop offset="1" stop-color="#cdcdcd"/></radialGradient>
<linearGradient id="cBody" x1="0" y1="0" x2="1" y2="0"><stop offset="0" stop-color="#5c94c3"/><stop offset="0.12" stop-color="#6a9ecb"/><stop offset="0.2" stop-color="#5e96c5"/><stop offset="0.8" stop-color="#5e96c5"/><stop offset="0.88" stop-color="#6a9ecb"/><stop offset="1" stop-color="#5c94c3"/></linearGradient>
</defs>
<g id="calix">
<clipPath id="cbclip"><path d="M674.4 173.7 A122 26 0 0 1 918.4 173.7 L880 255 A83 14.5 0 0 1 714 255 Z"/></clipPath>
<path d="M674.4 173.7 A122 26 0 0 1 918.4 173.7 L880 255 A83 14.5 0 0 1 714 255 Z" fill="url(#cBody)"/>
<g clip-path="url(#cbclip)">
<ellipse cx="797.5" cy="254.5" rx="63.4" ry="15.5" fill="#86aed3"/>
<polygon points="700,186 722,194 745,250 726,262" fill="#72a5d0" opacity="0.6"/>
<polygon points="893,186 871,194 848,250 868,262" fill="#72a5d0" opacity="0.6"/>
</g>
<ellipse cx="796.4" cy="173.7" rx="122" ry="26" fill="#578ebe"/>
<ellipse cx="796.4" cy="178.5" rx="92" ry="21.2" fill="#6498c6"/>
<polygon points="707,182 732,195 716,202" fill="#86b0d6" opacity="0.8"/>
<polygon points="886,182 861,195 877,202" fill="#86b0d6" opacity="0.8"/>
<ellipse cx="796.4" cy="175" rx="88.5" ry="17.4" fill="#7ba6cd"/>
</g>
<path d="M792 134V213" stroke="#e31b23" stroke-width="2.6" stroke-dasharray="8.8 4.4" fill="none"/>
<g font-size="22" fill="#111" stroke="#111" stroke-width="0.2" text-anchor="middle">
<text x="798.4" y="239.6">Calixarene</text>
<text x="798.2" y="312.4">Host-guest interaction</text>
</g>
<g id="dmso">
<path d="M792.3 71.1L806.65 69.65" stroke="#9a9a9a" stroke-width="5"/>
<path d="M806.65 69.65L821 68.2" stroke="#e8e8e8" stroke-width="5"/>
<path d="M792.3 71.1L821 68.2" stroke="#fff" stroke-opacity="0.38" stroke-width="1.8"/>
<circle cx="821" cy="68.2" r="7" fill="url(#sH)"/>
<path d="M788.6 52.8L788.6 32.5" stroke="#8a8a8a" stroke-width="6.5"/>
<path d="M788.6 32.5L788.6 12.2" stroke="#ededed" stroke-width="6.5"/>
<path d="M788.6 52.8L788.6 12.2" stroke="#fff" stroke-opacity="0.38" stroke-width="2.3"/>
<path d="M788.6 52.8L770.0 60.05" stroke="#8a8a8a" stroke-width="6.5"/>
<path d="M770.0 60.05L751.4 67.3" stroke="#ededed" stroke-width="6.5"/>
<path d="M788.6 52.8L751.4 67.3" stroke="#fff" stroke-opacity="0.38" stroke-width="2.3"/>
<circle cx="788.6" cy="12.2" r="7.4" fill="url(#sH)"/>
<circle cx="751.4" cy="67.3" r="7.4" fill="url(#sH)"/>
<circle cx="788.6" cy="52.8" r="12" fill="url(#sC)"/>
<path d="M860.8 51.4L861.7 30.5" stroke="#8a8a8a" stroke-width="6.5"/>
<path d="M861.7 30.5L862.6 9.6" stroke="#ededed" stroke-width="6.5"/>
<path d="M860.8 51.4L862.6 9.6" stroke="#fff" stroke-opacity="0.38" stroke-width="2.3"/>
<circle cx="862.6" cy="9.6" r="7.4" fill="url(#sH)"/>
<circle cx="884.9" cy="66.7" r="7" fill="url(#sH)"/>
<path d="M860.8 51.4L867.5 57.900000000000006" stroke="#8a8a8a" stroke-width="6.5"/>
<path d="M867.5 57.900000000000006L874.2 64.4" stroke="#ededed" stroke-width="6.5"/>
<path d="M860.8 51.4L874.2 64.4" stroke="#fff" stroke-opacity="0.38" stroke-width="2.3"/>
<path d="M792.3 71.1L826.55 61.25" stroke="#f2e72e" stroke-width="6.5"/>
<path d="M826.55 61.25L860.8 51.4" stroke="#8f8f8f" stroke-width="6.5"/>
<path d="M792.3 71.1L860.8 51.4" stroke="#fff" stroke-opacity="0.38" stroke-width="2.3"/>
<circle cx="860.8" cy="51.4" r="11.6" fill="url(#sC)"/>
<circle cx="874.2" cy="64.4" r="7.4" fill="url(#sH)"/>
<path d="M792.3 71.1L792.15 99.1" stroke="#f2e72e" stroke-width="7"/>
<path d="M792.15 99.1L792 127.1" stroke="#e81c1c" stroke-width="7"/>
<path d="M792.3 71.1L792 127.1" stroke="#fff" stroke-opacity="0.38" stroke-width="2.4"/>
<circle cx="792" cy="127.1" r="11.6" fill="url(#sO)"/>
<circle cx="792.5" cy="71.5" r="15.8" fill="url(#sS)"/>
</g>
</svg>
</body></html>
